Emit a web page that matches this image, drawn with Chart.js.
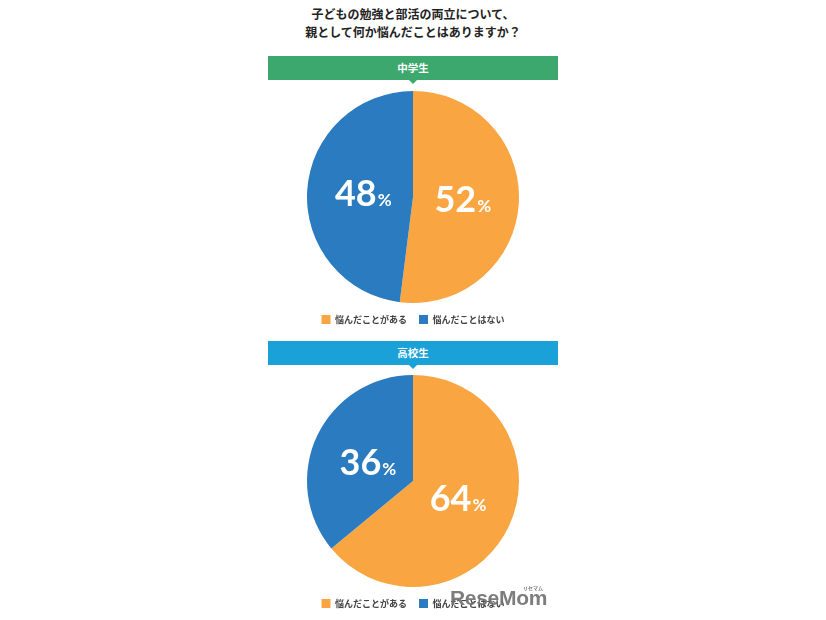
<!DOCTYPE html>
<html lang="ja">
<head>
<meta charset="utf-8">
<script src="https://cdn.jsdelivr.net/npm/chart.js@4.4.0/dist/chart.umd.min.js"></script>
<style>
  body { margin: 0; background: #fff; font-family: "Noto Sans CJK JP", "Noto Sans", sans-serif; }
  #page { position: relative; width: 826px; height: 620px; overflow: hidden; }
  .title { position: absolute; left: 0; width: 826px; text-align: center; font-weight: bold; font-size: 12px; color: #222; line-height: 18px; top: 5px; }
  .bar { position: absolute; left: 268px; width: 290px; height: 24px; line-height: 24px; text-align: center; color: #fff; font-weight: bold; font-size: 10.5px; }
  .bar::after { content: ""; position: absolute; left: 141px; top: 24px; border-left: 4px solid transparent; border-right: 4px solid transparent; border-top: 4px solid; border-top-color: inherit; }
  .chartBox { position: absolute; left: 268px; width: 290px; height: 243px; }
  .mark { position: absolute; left: 450px; top: 586px; font-family: "Liberation Sans", sans-serif; font-weight: bold; font-size: 21px; color: #6f6f6f; opacity: 0.9; letter-spacing: -0.3px; }
  .mark small { position: absolute; right: 4px; top: -2px; font-size: 5px; font-family: "Noto Sans CJK JP"; letter-spacing: 0; }
</style>
</head>
<body>
<div id="page">
  <div class="title">子どもの勉強と部活の両立について、<br>親として何か悩んだことはありますか？</div>

  <div class="bar" style="top:56px;background:#3da86d;border-top-color:#3da86d;">中学生</div>
  <div class="chartBox" style="top:91px;"><canvas id="chuugaku" width="290" height="243"></canvas></div>

  <div class="bar" style="top:341px;background:#1aa2d8;border-top-color:#1aa2d8;">高校生</div>
  <div class="chartBox" style="top:375px;"><canvas id="koukou" width="290" height="243"></canvas></div>

  <div class="mark">ReseMom<small>リセマム</small></div>
</div>

<script>
const categorias = ["悩んだことがある", "悩んだことはない"];
const chuugakusei = [52, 48];
const koukousei = [64, 36];
const colores = ["#f9a642", "#2a7bbf"];

// numeros grandes dentro de cada sector
const etiquetas = {
  id: 'etiquetas',
  afterDatasetsDraw(chart) {
    const ctx = chart.ctx;
    const meta = chart.getDatasetMeta(0);
    const valores = chart.data.datasets[0].data;
    meta.data.forEach((arc, i) => {
      const p = arc.getProps(['x', 'y', 'startAngle', 'endAngle', 'outerRadius'], true);
      const mid = (p.startAngle + p.endAngle) / 2;
      const cx = p.x + Math.cos(mid) * p.outerRadius * 0.47;
      const cy = p.y + Math.sin(mid) * p.outerRadius * 0.4;
      const num = String(valores[i]);
      ctx.save();
      ctx.fillStyle = '#fff';
      ctx.textBaseline = 'alphabetic';
      ctx.textAlign = 'left';
      ctx.font = 'bold 36px Lato, "Open Sans", sans-serif';
      const w1 = ctx.measureText(num).width;
      ctx.font = 'bold 17px Lato, "Open Sans", sans-serif';
      const w2 = ctx.measureText('%').width;
      const x0 = cx - (w1 + w2 + 1) / 2;
      const base = cy + 12;
      ctx.font = 'bold 36px Lato, "Open Sans", sans-serif';
      ctx.fillText(num, x0, base);
      ctx.font = 'bold 17px Lato, "Open Sans", sans-serif';
      ctx.fillText('%', x0 + w1 + 1, base);
      ctx.restore();
    });
  }
};

function crearPie(id, valores) {
  return new Chart(document.getElementById(id).getContext('2d'), {
    type: 'pie',
    data: {
      labels: categorias,
      datasets: [{
        data: valores,
        backgroundColor: colores,
        borderWidth: 0
      }]
    },
    options: {
      responsive: false,
      animation: false,
      plugins: {
        legend: {
          position: 'bottom',
          labels: {
            boxWidth: 9,
            boxHeight: 9,
            padding: 12,
            color: '#444',
            font: { size: 9, weight: 'bold', family: '"Noto Sans CJK JP", sans-serif' }
          }
        },
        tooltip: { enabled: false }
      }
    },
    plugins: [etiquetas]
  });
}

let chartChuugaku = crearPie('chuugaku', chuugakusei);
let chartKoukou = crearPie('koukou', koukousei);
</script>
</body>
</html>
